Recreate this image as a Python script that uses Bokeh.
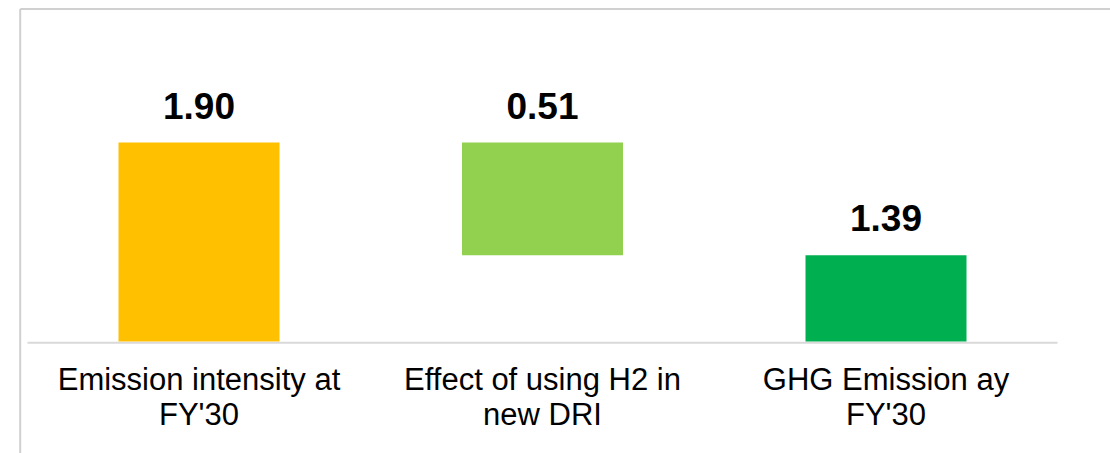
from bokeh.plotting import figure
from bokeh.models import Range1d, ColumnDataSource
from bokeh.core.properties import value
from bokeh.embed import file_html
from bokeh.resources import INLINE

# ---- data ----
categories = ["Emission intensity at\nFY'30", "Effect of using H2 in\nnew DRI", "GHG Emission ay\nFY'30"]
values = [1.90, 0.51, 1.39]
kinds = ["total", "decrease", "total"]
colors = ["#FFC000", "#92D050", "#00B050"]
axis_base = 1.0

# ---- waterfall geometry from data ----
idx = list(range(len(categories)))
bottoms, tops = [], []
running = 0.0
for v, k in zip(values, kinds):
    if k == "total":
        bottoms.append(axis_base)
        tops.append(v)
        running = v
    else:
        tops.append(running)
        running = running - v
        bottoms.append(running)

W, H = 1110, 453
SX = 343.5   # px per category
SY = 221.0   # px per unit
x_start = -0.5546 - 8 / SX
x_end = x_start + W / SX
y_start = axis_base - 112 / SY
y_end = axis_base + 341 / SY

p = figure(width=W, height=H, output_backend="svg", toolbar_location=None,
           x_range=Range1d(x_start, x_end), y_range=Range1d(y_start, y_end),
           min_border=0)
p.axis.visible = False
p.grid.visible = False
p.outline_line_color = None
p.background_fill_color = "white"
p.border_fill_color = "white"

border_color = "#d0d0d0"
# chart-area border (top and left)
left_x = x_start + 19.7 / SX
top_y = y_end - 8.6 / SY
p.segment(x0=[left_x], y0=[y_start], x1=[left_x], y1=[top_y], line_color=border_color, line_width=2)
p.segment(x0=[left_x], y0=[top_y], x1=[x_end], y1=[top_y], line_color=border_color, line_width=2)

# horizontal axis line (plot-area width)
p.segment(x0=[-0.4993], y0=[axis_base - 1.3 / SY], x1=[len(idx) - 0.5007], y1=[axis_base - 1.3 / SY],
          line_color="#d9d9d9", line_width=2)

line1 = [c.split("\n")[0] for c in categories]
line2 = [c.split("\n")[1] for c in categories]

src = ColumnDataSource(dict(
    x=idx, bottom=bottoms, top=tops, color=colors,
    label=["%.2f" % v for v in values],
    label_y=[t + 37 / SY for t in tops],
    line1=line1, line2=line2,
    l1_y=[axis_base - 20 / SY] * len(idx),
    l2_y=[axis_base - 55 / SY] * len(idx),
))

p.vbar(x="x", bottom="bottom", top="top", width=161 / SX, fill_color="color",
       line_color=None, source=src)

p.text(x="x", y="label_y", text="label", source=src, text_align="center",
       text_baseline="alphabetic", text_font=value("Liberation Sans"),
       text_font_style="bold", text_font_size="37px", text_color="black")

for col, ycol in (("line1", "l1_y"), ("line2", "l2_y")):
    p.text(x="x", y=ycol, text=col, source=src, text_align="center",
           text_baseline="top", text_font=value("Liberation Sans"),
           text_font_size="31px", text_color="black")

open("out.html", "w").write(file_html(p, INLINE))
